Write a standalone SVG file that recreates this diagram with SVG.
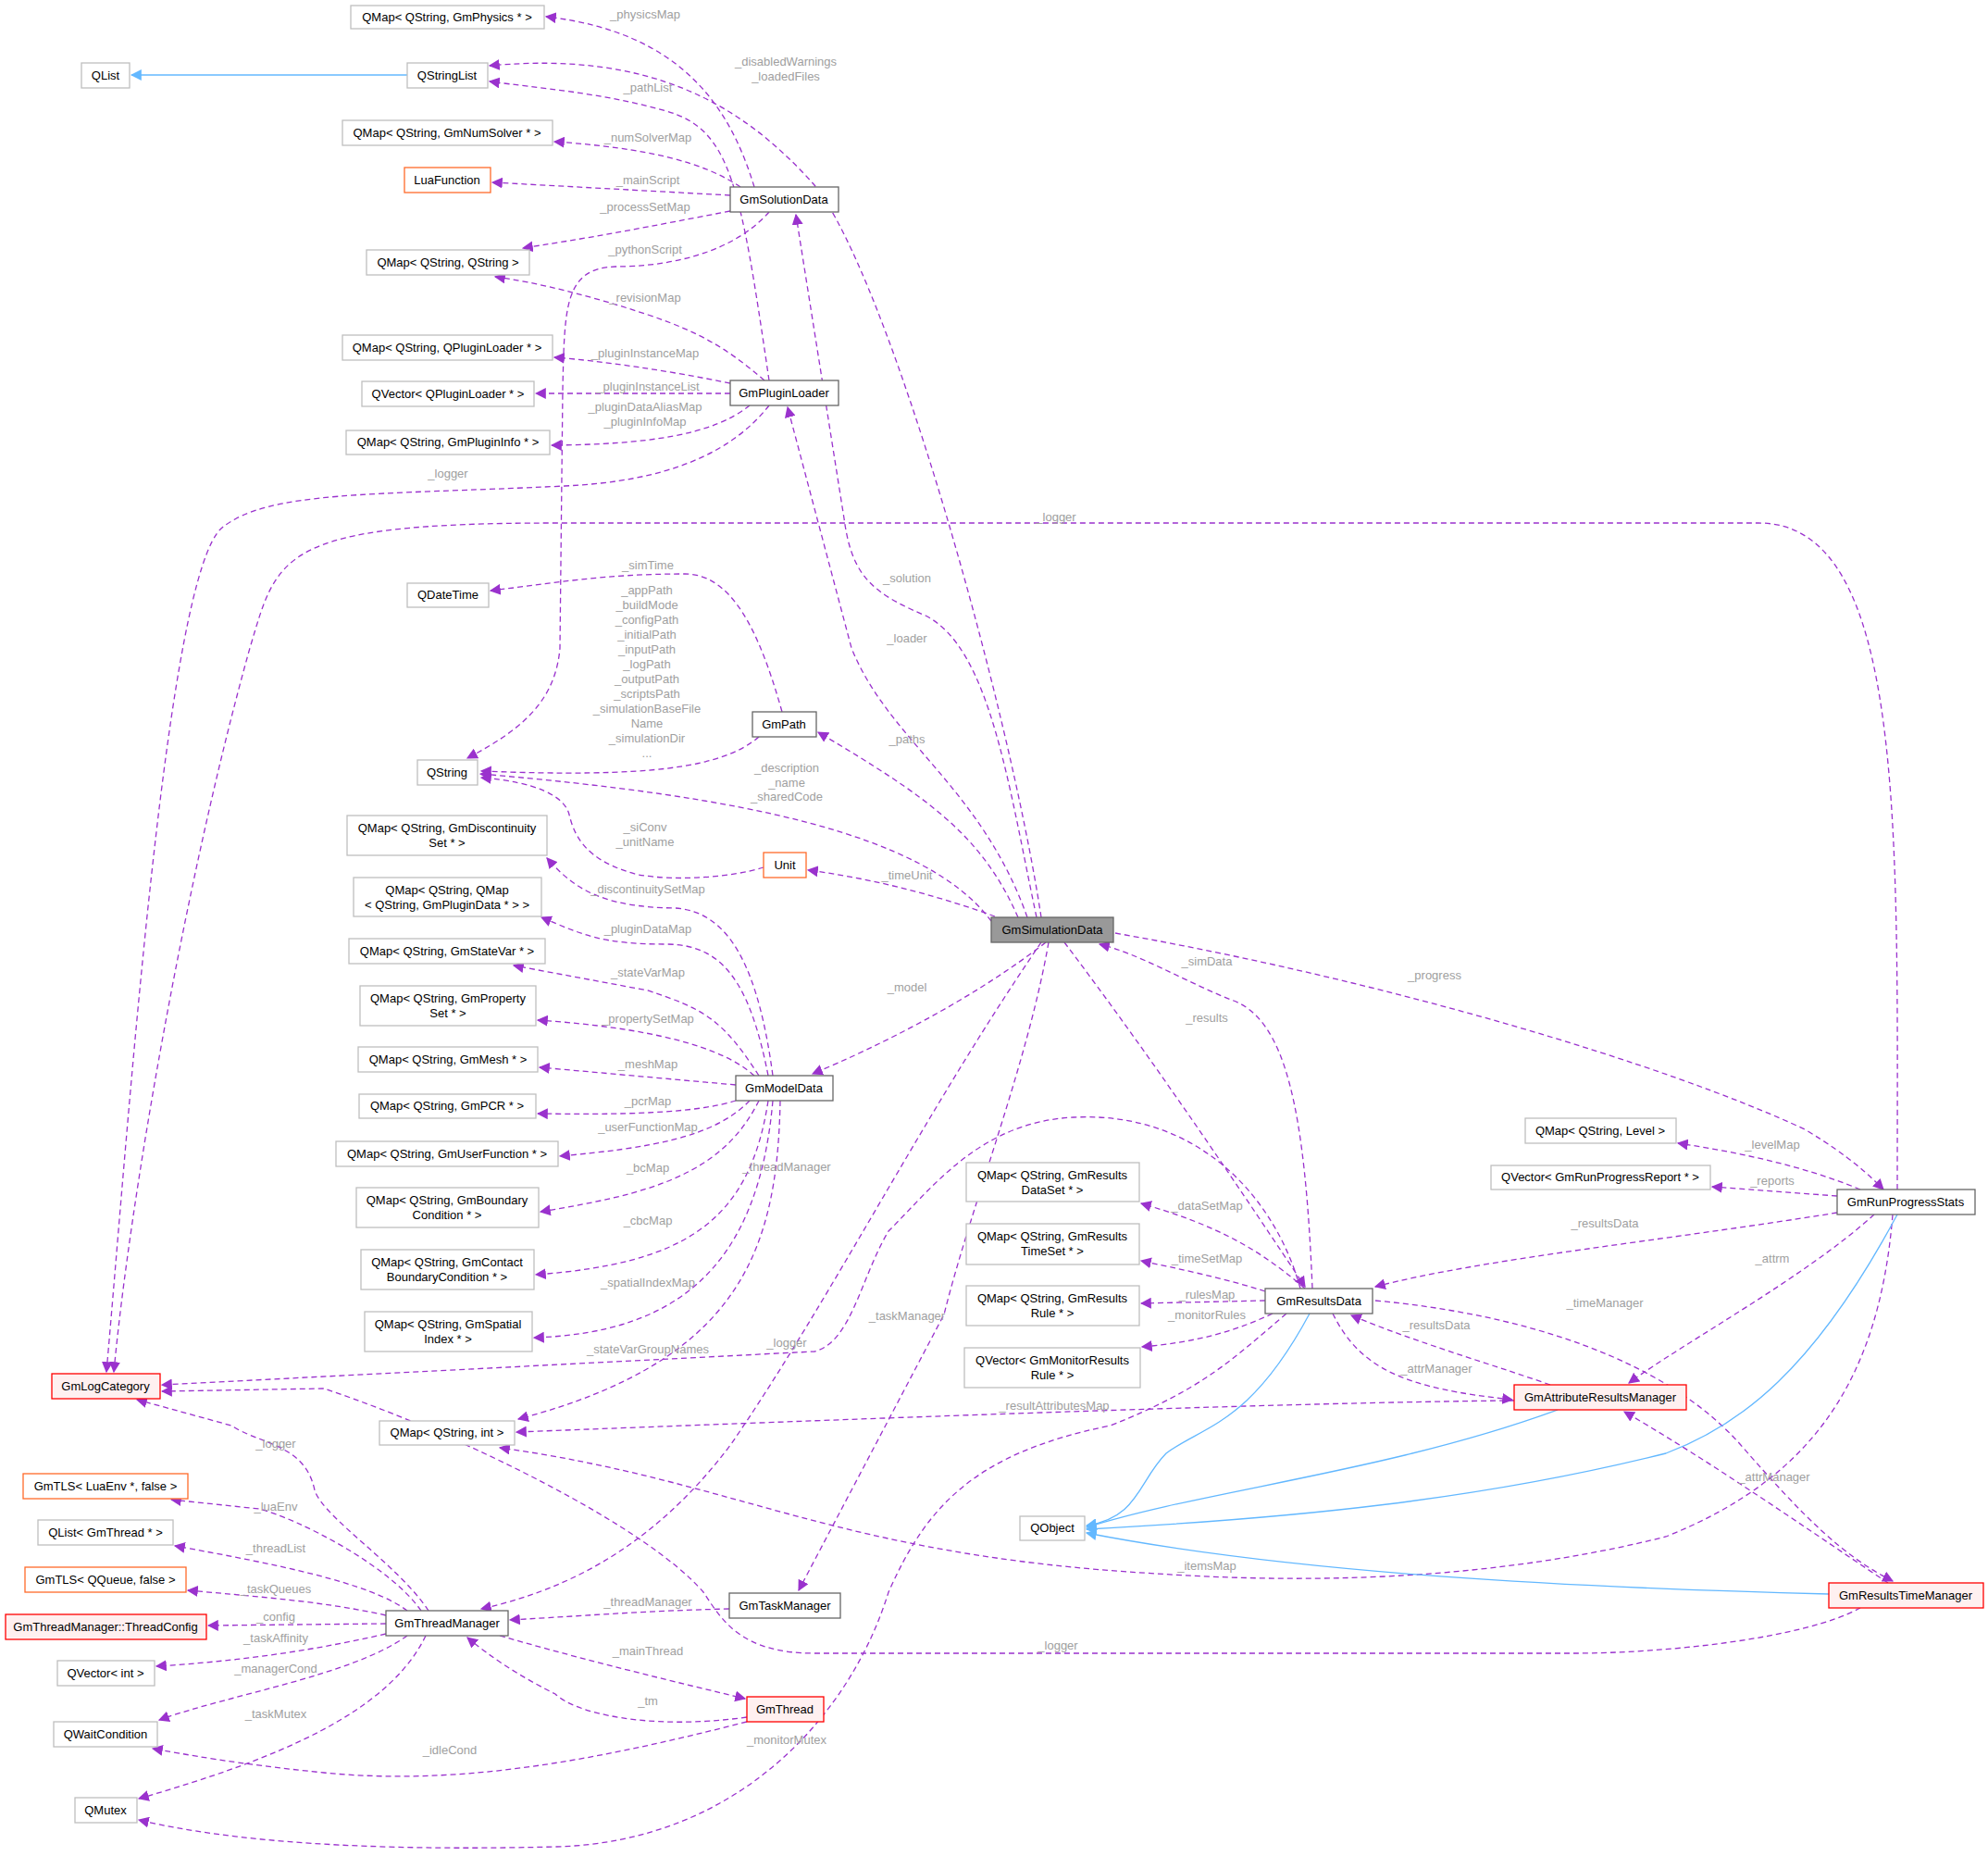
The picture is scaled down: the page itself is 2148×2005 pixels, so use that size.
<svg xmlns="http://www.w3.org/2000/svg" width="2148" height="2005" viewBox="0 0 2148 2005">
<style>
text{font-family:"Liberation Sans",Arial,sans-serif;font-size:13px;text-anchor:middle}
.l{fill:#a0a0a0}
rect{fill:#fff;stroke:#bfbfbf;stroke-width:1.3}
.d rect{stroke:#666}
.o rect{stroke:#ff6a2a}
.r rect{stroke:#f00;fill:#fff0f0}
.g rect{fill:#999;stroke:#666}
.e path{fill:none;stroke:#9a32cd;stroke-width:1.3;stroke-dasharray:6,4}
.e path.b{stroke:#63b8ff;stroke-dasharray:none}
</style>
<defs>
<marker id="a" viewBox="0 0 10 10" refX="9" refY="5" markerWidth="12" markerHeight="12" markerUnits="userSpaceOnUse" orient="auto"><path d="M0,0L10,5L0,10z" fill="#9a32cd"/></marker>
<marker id="bl" viewBox="0 0 10 10" refX="9" refY="5" markerWidth="12" markerHeight="12" markerUnits="userSpaceOnUse" orient="auto"><path d="M0,0L10,5L0,10z" fill="#63b8ff"/></marker>
</defs>
<g class="e" marker-end="url(#a)">
<path d="M815,202 C790,120 740,35 590,18" marker-end="url(#a)"/>
<path d="M1125,991 C1090,760 960,300 880,200 C800,110 700,55 529,71" marker-end="url(#a)"/>
<path d="M831,411 C800,200 790,140 720,120 C650,100 580,95 529,88" marker-end="url(#a)"/>
<path d="M800,202 C760,175 700,160 599,153" marker-end="url(#a)"/>
<path d="M789,211 L532,197" marker-end="url(#a)"/>
<path d="M789,228 C700,245 650,255 565,268" marker-end="url(#a)"/>
<path d="M831,229 C790,275 720,288 665,288 C610,290 610,330 608,420 L605,700 C600,760 560,790 505,819" marker-end="url(#a)"/>
<path d="M826,411 C790,380 760,360 700,340 C640,320 580,305 535,299" marker-end="url(#a)"/>
<path d="M789,414 C720,400 650,390 599,386" marker-end="url(#a)"/>
<path d="M789,425 L579,425" marker-end="url(#a)"/>
<path d="M810,438 C770,470 700,480 596,481" marker-end="url(#a)"/>
<path d="M831,438 C790,490 720,520 610,525 C400,535 290,530 240,570 C180,620 140,1200 115,1482" marker-end="url(#a)"/>
<path d="M2050,1285 C2050,900 2060,565 1900,565 L600,565 C300,565 300,600 270,700 C200,950 140,1300 123,1482" marker-end="url(#a)"/>
<path d="M845,769 C820,680 790,620 740,620 C650,620 600,630 530,638" marker-end="url(#a)"/>
<path d="M1120,991 C1090,850 1070,700 1000,665 C940,640 920,620 912,560 L860,232" marker-end="url(#a)"/>
<path d="M1110,991 C1060,850 960,800 920,700 L851,440" marker-end="url(#a)"/>
<path d="M820,796 C780,830 700,840 520,833" marker-end="url(#a)"/>
<path d="M1100,991 C1060,900 1000,860 884,791" marker-end="url(#a)"/>
<path d="M1071,995 C1000,900 800,860 519,836" marker-end="url(#a)"/>
<path d="M825,937 C790,948 730,952 690,945 C630,930 620,900 615,880 C610,860 580,845 520,840" marker-end="url(#a)"/>
<path d="M1075,990 C1020,970 950,950 873,940" marker-end="url(#a)"/>
<path d="M835,1162 C820,1050 790,985 730,981 C650,980 620,960 591,927" marker-end="url(#a)"/>
<path d="M830,1162 C810,1060 780,1020 720,1020 C650,1020 630,1010 585,991" marker-end="url(#a)"/>
<path d="M820,1162 C780,1100 760,1090 700,1070 L555,1043" marker-end="url(#a)"/>
<path d="M815,1162 C780,1130 700,1110 581,1102" marker-end="url(#a)"/>
<path d="M795,1172 L583,1153" marker-end="url(#a)"/>
<path d="M795,1189 C760,1200 700,1205 581,1203" marker-end="url(#a)"/>
<path d="M810,1189 C770,1230 700,1240 605,1249" marker-end="url(#a)"/>
<path d="M820,1189 C780,1270 700,1290 584,1309" marker-end="url(#a)"/>
<path d="M830,1189 C810,1320 740,1365 579,1377" marker-end="url(#a)"/>
<path d="M835,1189 C820,1360 740,1440 577,1445" marker-end="url(#a)"/>
<path d="M1130,1018 C1050,1080 950,1130 878,1160" marker-end="url(#a)"/>
<path d="M843,1189 C840,1350 800,1470 560,1533" marker-end="url(#a)"/>
<path d="M1125,1018 C1000,1200 900,1400 790,1560 C700,1680 600,1720 520,1738" marker-end="url(#a)"/>
<path d="M1133,1018 C1110,1150 1050,1300 1020,1420 L863,1718" marker-end="url(#a)"/>
<path d="M1405,1392 C1380,1300 1300,1200 1160,1207 C1060,1212 1010,1280 960,1330 C930,1380 920,1450 880,1460 L175,1496" marker-end="url(#a)"/>
<path d="M2010,1737 C1950,1770 1800,1786 1700,1786 L880,1786 C800,1786 780,1750 760,1720 C700,1650 500,1550 350,1500 L175,1503" marker-end="url(#a)"/>
<path d="M463,1740 C430,1690 350,1640 340,1610 C330,1560 280,1560 250,1540 L148,1512" marker-end="url(#a)"/>
<path d="M455,1740 C420,1690 320,1640 280,1630 L185,1620" marker-end="url(#a)"/>
<path d="M440,1740 C400,1710 300,1690 189,1670" marker-end="url(#a)"/>
<path d="M417,1745 C350,1730 280,1725 203,1718" marker-end="url(#a)"/>
<path d="M417,1754 L225,1756" marker-end="url(#a)"/>
<path d="M417,1765 C330,1785 250,1795 169,1800" marker-end="url(#a)"/>
<path d="M440,1767 C380,1810 250,1830 172,1858" marker-end="url(#a)"/>
<path d="M460,1767 C420,1850 300,1900 150,1943" marker-end="url(#a)"/>
<path d="M788,1738 C700,1740 640,1745 551,1750" marker-end="url(#a)"/>
<path d="M540,1767 C620,1790 700,1810 805,1835" marker-end="url(#a)"/>
<path d="M807,1855 C700,1870 620,1850 600,1830 C560,1810 530,1790 505,1769" marker-end="url(#a)"/>
<path d="M807,1860 C650,1900 500,1930 350,1915 C250,1905 200,1895 165,1889" marker-end="url(#a)"/>
<path d="M1390,1419 C1330,1470 1300,1500 1200,1540 C1050,1570 1000,1630 960,1720 C920,1850 800,1990 600,1995 C400,2000 250,1990 150,1966" marker-end="url(#a)"/>
<path d="M1150,1018 C1250,1150 1350,1300 1410,1390" marker-end="url(#a)"/>
<path d="M1418,1392 C1410,1200 1390,1100 1330,1080 C1280,1060 1230,1030 1188,1020" marker-end="url(#a)"/>
<path d="M1205,1008 C1500,1060 1800,1150 1950,1220 C2000,1250 2020,1270 2035,1285" marker-end="url(#a)"/>
<path d="M2010,1285 C1950,1260 1880,1245 1813,1235" marker-end="url(#a)"/>
<path d="M1985,1292 L1850,1282" marker-end="url(#a)"/>
<path d="M1985,1310 C1800,1340 1600,1360 1486,1390" marker-end="url(#a)"/>
<path d="M2025,1312 C1950,1380 1820,1450 1760,1494" marker-end="url(#a)"/>
<path d="M1410,1392 C1350,1340 1300,1320 1233,1300" marker-end="url(#a)"/>
<path d="M1367,1395 C1320,1380 1270,1370 1233,1362" marker-end="url(#a)"/>
<path d="M1367,1405 L1233,1408" marker-end="url(#a)"/>
<path d="M1375,1419 C1330,1440 1290,1450 1234,1455" marker-end="url(#a)"/>
<path d="M1486,1405 C1650,1420 1800,1470 1880,1560 C1950,1640 1990,1680 2045,1708" marker-end="url(#a)"/>
<path d="M1675,1496 C1600,1470 1530,1450 1460,1421" marker-end="url(#a)"/>
<path d="M1440,1419 C1470,1480 1520,1500 1634,1512" marker-end="url(#a)"/>
<path d="M1636,1513 C1400,1515 1000,1530 558,1547" marker-end="url(#a)"/>
<path d="M2040,1710 C1950,1650 1850,1580 1755,1525" marker-end="url(#a)"/>
<path d="M2045,1312 C2030,1500 1950,1600 1800,1660 C1600,1710 1400,1710 1250,1700 C900,1680 800,1600 540,1564" marker-end="url(#a)"/>
<path class="b" d="M440,81 L142,81" marker-end="url(#bl)"/>
<path class="b" d="M1415,1419 C1350,1540 1300,1540 1260,1570 C1230,1600 1230,1640 1174,1648" marker-end="url(#bl)"/>
<path class="b" d="M1683,1523 C1500,1590 1300,1610 1174,1650" marker-end="url(#bl)"/>
<path class="b" d="M2050,1312 C1960,1480 1880,1540 1800,1570 C1600,1620 1400,1640 1174,1652" marker-end="url(#bl)"/>
<path class="b" d="M1976,1722 C1700,1715 1400,1700 1174,1656" marker-end="url(#bl)"/>
</g>
<g class="l">
<text x="697" y="20">_physicsMap</text>
<text x="849" y="71">_disabledWarnings</text><text x="849" y="87">_loadedFiles</text>
<text x="700" y="99">_pathList</text>
<text x="700" y="153">_numSolverMap</text>
<text x="700" y="199">_mainScript</text>
<text x="697" y="228">_processSetMap</text>
<text x="697" y="274">_pythonScript</text>
<text x="697" y="326">_revisionMap</text>
<text x="697" y="386">_pluginInstanceMap</text>
<text x="700" y="422">_pluginInstanceList</text>
<text x="697" y="444">_pluginDataAliasMap</text><text x="697" y="460">_pluginInfoMap</text>
<text x="484" y="516">_logger</text>
<text x="1141" y="563">_logger</text>
<text x="700" y="615">_simTime</text>
<text x="980" y="629">_solution</text>
<text x="980" y="694">_loader</text>
<text x="699" y="642">_appPath</text><text x="699" y="658">_buildMode</text><text x="699" y="674">_configPath</text><text x="699" y="690">_initialPath</text><text x="699" y="706">_inputPath</text><text x="699" y="722">_logPath</text><text x="699" y="738">_outputPath</text><text x="699" y="754">_scriptsPath</text><text x="699" y="770">_simulationBaseFile</text><text x="699" y="786">Name</text><text x="699" y="802">_simulationDir</text><text x="699" y="818">...</text>
<text x="980" y="803">_paths</text>
<text x="850" y="834">_description</text><text x="850" y="850">_name</text><text x="850" y="865">_sharedCode</text>
<text x="697" y="898">_siConv</text><text x="697" y="914">_unitName</text>
<text x="980" y="950">_timeUnit</text>
<text x="700" y="965">_discontinuitySetMap</text>
<text x="700" y="1008">_pluginDataMap</text>
<text x="700" y="1055">_stateVarMap</text>
<text x="980" y="1071">_model</text>
<text x="700" y="1105">_propertySetMap</text>
<text x="700" y="1154">_meshMap</text>
<text x="700" y="1194">_pcrMap</text>
<text x="700" y="1222">_userFunctionMap</text>
<text x="850" y="1265">_threadManager</text>
<text x="700" y="1266">_bcMap</text>
<text x="700" y="1323">_cbcMap</text>
<text x="700" y="1390">_spatialIndexMap</text>
<text x="980" y="1426">_taskManager</text>
<text x="700" y="1462">_stateVarGroupNames</text>
<text x="850" y="1455">_logger</text>
<text x="298" y="1564">_logger</text>
<text x="298" y="1632">_luaEnv</text>
<text x="298" y="1677">_threadList</text>
<text x="298" y="1721">_taskQueues</text>
<text x="298" y="1751">_config</text>
<text x="298" y="1774">_taskAffinity</text>
<text x="298" y="1807">_managerCond</text>
<text x="298" y="1856">_taskMutex</text>
<text x="700" y="1735">_threadManager</text>
<text x="700" y="1788">_mainThread</text>
<text x="700" y="1842">_tm</text>
<text x="486" y="1895">_idleCond</text>
<text x="850" y="1884">_monitorMutex</text>
<text x="1304" y="1043">_simData</text>
<text x="1550" y="1058">_progress</text>
<text x="1304" y="1104">_results</text>
<text x="1915" y="1241">_levelMap</text>
<text x="1915" y="1280">_reports</text>
<text x="1734" y="1326">_resultsData</text>
<text x="1304" y="1307">_dataSetMap</text>
<text x="1915" y="1364">_attrm</text>
<text x="1304" y="1364">_timeSetMap</text>
<text x="1304" y="1403">_rulesMap</text>
<text x="1734" y="1412">_timeManager</text>
<text x="1304" y="1425">_monitorRules</text>
<text x="1552" y="1436">_resultsData</text>
<text x="1552" y="1483">_attrManager</text>
<text x="1139" y="1523">_resultAttributesMap</text>
<text x="1917" y="1600">_attrManager</text>
<text x="1304" y="1696">_itemsMap</text>
<text x="1143" y="1782">_logger</text>
</g>
<g id="n1"><rect x="379" y="6" width="209" height="25"/><text x="483" y="23">QMap&lt; QString, GmPhysics * &gt;</text></g>
<g id="n2"><rect x="88" y="68" width="52" height="27"/><text x="114" y="86">QList</text></g>
<g id="n3"><rect x="440" y="68" width="87" height="27"/><text x="483" y="86">QStringList</text></g>
<g id="n4"><rect x="370" y="130" width="227" height="27"/><text x="483" y="148">QMap&lt; QString, GmNumSolver * &gt;</text></g>
<g id="n5" class="o"><rect x="437" y="181" width="93" height="27"/><text x="483" y="199">LuaFunction</text></g>
<g id="n6" class="d"><rect x="789" y="202" width="117" height="27"/><text x="847" y="220">GmSolutionData</text></g>
<g id="n7"><rect x="396" y="270" width="176" height="27"/><text x="484" y="288">QMap&lt; QString, QString &gt;</text></g>
<g id="n8"><rect x="370" y="362" width="227" height="27"/><text x="483" y="380">QMap&lt; QString, QPluginLoader * &gt;</text></g>
<g id="n9"><rect x="391" y="412" width="186" height="27"/><text x="484" y="430">QVector&lt; QPluginLoader * &gt;</text></g>
<g id="n10" class="d"><rect x="789" y="411" width="117" height="27"/><text x="847" y="429">GmPluginLoader</text></g>
<g id="n11"><rect x="374" y="465" width="220" height="26"/><text x="484" y="482">QMap&lt; QString, GmPluginInfo * &gt;</text></g>
<g id="n12"><rect x="440" y="630" width="88" height="26"/><text x="484" y="647">QDateTime</text></g>
<g id="n13" class="d"><rect x="813" y="769" width="69" height="27"/><text x="847" y="787">GmPath</text></g>
<g id="n14"><rect x="451" y="821" width="65" height="27"/><text x="483" y="839">QString</text></g>
<g id="n15"><rect x="375" y="881" width="216" height="43"/><text x="483" y="899">QMap&lt; QString, GmDiscontinuity</text><text x="483" y="915">Set * &gt;</text></g>
<g id="n16" class="o"><rect x="825" y="921" width="46" height="27"/><text x="848" y="939">Unit</text></g>
<g id="n17"><rect x="382" y="948" width="203" height="42"/><text x="483" y="966">QMap&lt; QString, QMap</text><text x="483" y="982">&lt; QString, GmPluginData * &gt; &gt;</text></g>
<g id="n18" class="g"><rect x="1071" y="991" width="132" height="27"/><text x="1137" y="1009">GmSimulationData</text></g>
<g id="n19"><rect x="377" y="1014" width="212" height="27"/><text x="483" y="1032">QMap&lt; QString, GmStateVar * &gt;</text></g>
<g id="n20"><rect x="389" y="1065" width="190" height="43"/><text x="484" y="1083">QMap&lt; QString, GmProperty</text><text x="484" y="1099">Set * &gt;</text></g>
<g id="n21"><rect x="387" y="1131" width="194" height="27"/><text x="484" y="1149">QMap&lt; QString, GmMesh * &gt;</text></g>
<g id="n22" class="d"><rect x="795" y="1162" width="105" height="27"/><text x="847" y="1180">GmModelData</text></g>
<g id="n23"><rect x="388" y="1182" width="191" height="26"/><text x="483" y="1199">QMap&lt; QString, GmPCR * &gt;</text></g>
<g id="n24"><rect x="363" y="1233" width="240" height="27"/><text x="483" y="1251">QMap&lt; QString, GmUserFunction * &gt;</text></g>
<g id="n25"><rect x="385" y="1283" width="197" height="43"/><text x="483" y="1301">QMap&lt; QString, GmBoundary</text><text x="483" y="1317">Condition * &gt;</text></g>
<g id="n26"><rect x="390" y="1350" width="187" height="43"/><text x="483" y="1368">QMap&lt; QString, GmContact</text><text x="483" y="1384">BoundaryCondition * &gt;</text></g>
<g id="n27"><rect x="394" y="1417" width="181" height="43"/><text x="484" y="1435">QMap&lt; QString, GmSpatial</text><text x="484" y="1451">Index * &gt;</text></g>
<g id="n28" class="r"><rect x="56" y="1484" width="117" height="27"/><text x="114" y="1502">GmLogCategory</text></g>
<g id="n29"><rect x="410" y="1535" width="146" height="26"/><text x="483" y="1552">QMap&lt; QString, int &gt;</text></g>
<g id="n30" class="o"><rect x="25" y="1592" width="178" height="27"/><text x="114" y="1610">GmTLS&lt; LuaEnv *, false &gt;</text></g>
<g id="n31"><rect x="41" y="1642" width="146" height="27"/><text x="114" y="1660">QList&lt; GmThread * &gt;</text></g>
<g id="n32" class="o"><rect x="27" y="1693" width="174" height="27"/><text x="114" y="1711">GmTLS&lt; QQueue, false &gt;</text></g>
<g id="n33" class="r"><rect x="6" y="1744" width="217" height="27"/><text x="114" y="1762">GmThreadManager::ThreadConfig</text></g>
<g id="n34" class="d"><rect x="417" y="1740" width="132" height="27"/><text x="483" y="1758">GmThreadManager</text></g>
<g id="n35" class="d"><rect x="788" y="1721" width="120" height="27"/><text x="848" y="1739">GmTaskManager</text></g>
<g id="n36"><rect x="62" y="1794" width="105" height="27"/><text x="114" y="1812">QVector&lt; int &gt;</text></g>
<g id="n37" class="r"><rect x="807" y="1833" width="83" height="27"/><text x="848" y="1851">GmThread</text></g>
<g id="n38"><rect x="58" y="1860" width="112" height="27"/><text x="114" y="1878">QWaitCondition</text></g>
<g id="n39"><rect x="81" y="1942" width="67" height="27"/><text x="114" y="1960">QMutex</text></g>
<g id="n40"><rect x="1648" y="1208" width="163" height="27"/><text x="1729" y="1226">QMap&lt; QString, Level &gt;</text></g>
<g id="n41"><rect x="1611" y="1259" width="237" height="26"/><text x="1729" y="1276">QVector&lt; GmRunProgressReport * &gt;</text></g>
<g id="n42" class="d"><rect x="1985" y="1285" width="149" height="27"/><text x="2059" y="1303">GmRunProgressStats</text></g>
<g id="n43"><rect x="1044" y="1256" width="187" height="42"/><text x="1137" y="1274">QMap&lt; QString, GmResults</text><text x="1137" y="1290">DataSet * &gt;</text></g>
<g id="n44"><rect x="1044" y="1322" width="187" height="44"/><text x="1137" y="1340">QMap&lt; QString, GmResults</text><text x="1137" y="1356">TimeSet * &gt;</text></g>
<g id="n45"><rect x="1044" y="1389" width="187" height="43"/><text x="1137" y="1407">QMap&lt; QString, GmResults</text><text x="1137" y="1423">Rule * &gt;</text></g>
<g id="n46"><rect x="1042" y="1456" width="190" height="43"/><text x="1137" y="1474">QVector&lt; GmMonitorResults</text><text x="1137" y="1490">Rule * &gt;</text></g>
<g id="n47" class="d"><rect x="1367" y="1392" width="116" height="27"/><text x="1425" y="1410">GmResultsData</text></g>
<g id="n48" class="r"><rect x="1636" y="1496" width="186" height="27"/><text x="1729" y="1514">GmAttributeResultsManager</text></g>
<g id="n49"><rect x="1102" y="1638" width="70" height="26"/><text x="1137" y="1655">QObject</text></g>
<g id="n50" class="r"><rect x="1976" y="1710" width="167" height="27"/><text x="2059" y="1728">GmResultsTimeManager</text></g>
</svg>
